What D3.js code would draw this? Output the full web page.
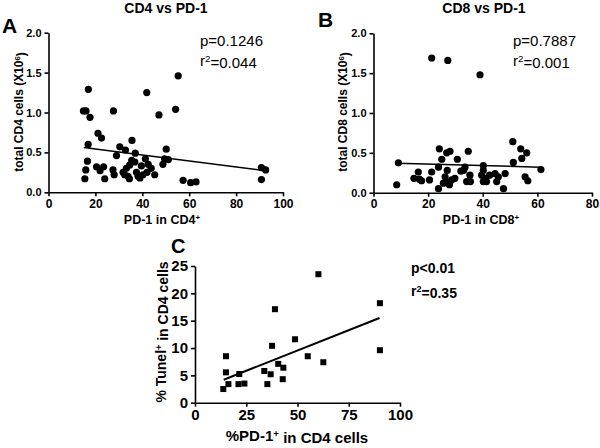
<!DOCTYPE html>
<html>
<head>
<meta charset="utf-8">
<script src="https://cdn.jsdelivr.net/npm/d3@7"></script>
<style>
  body { margin: 0; background: #fff; }
  svg { font-family: 'Liberation Sans', Arial, sans-serif; }
  .axis path, .axis line { stroke: #000; stroke-width: 1.6; }
  .axis text { fill: #000; font-weight: bold; }
</style>
</head>
<body>
<div id="chart"></div>
<script>
'use strict';
// Panel A: total CD4 cells vs PD-1 in CD4+
const cd4Points = [
    [17.0, 1.29], [14.9, 1.02], [16.0, 1.02], [17.7, 0.94], [27.7, 1.02], [41.9, 1.25], [55.3, 1.46],
    [54.2, 1.04], [47.1, 0.97], [16.9, 0.60], [21.1, 0.74], [22.6, 0.68], [35.6, 0.65], [30.4, 0.57],
    [32.8, 0.53], [37.0, 0.49], [29.0, 0.46], [50.2, 0.54], [41.3, 0.42], [49.5, 0.42], [48.8, 0.35],
    [16.6, 0.39], [15.9, 0.28], [15.5, 0.17], [20.5, 0.32], [22.0, 0.27], [23.5, 0.32], [24.0, 0.17],
    [27.5, 0.28], [28.0, 0.22], [31.8, 0.25], [33.2, 0.30], [34.6, 0.34], [33.9, 0.20], [32.5, 0.22],
    [37.5, 0.25], [38.2, 0.20], [40.3, 0.22], [42.0, 0.25], [43.8, 0.30], [45.3, 0.22], [39.6, 0.33],
    [36.8, 0.38], [35.5, 0.40], [42.5, 0.35], [39.0, 0.18], [34.5, 0.17], [51.1, 0.41], [57.4, 0.15],
    [60.6, 0.12], [62.9, 0.13], [90.8, 0.31], [92.6, 0.28], [90.8, 0.16]
]
const cd4Fit = [[15, 0.56], [93, 0.27]]
// Panel B: total CD8 cells vs PD-1 in CD8+
const cd8Points = [
    [21.3, 1.69], [27.2, 1.66], [39.0, 1.48], [9.1, 0.375], [8.5, 0.10], [14.8, 0.18], [16.8, 0.17],
    [16.4, 0.26], [17.6, 0.15], [20.5, 0.16], [21.3, 0.26], [24.1, 0.55], [25.0, 0.42], [23.8, 0.32],
    [23.8, 0.05], [26.8, 0.50], [28.0, 0.52], [27.0, 0.28], [26.2, 0.20], [26.8, 0.14], [27.8, 0.10],
    [25.6, 0.12], [28.6, 0.16], [29.8, 0.18], [30.7, 0.42], [34.7, 0.52], [33.5, 0.32], [33.0, 0.28],
    [35.3, 0.22], [34.1, 0.14], [35.5, 0.14], [40.2, 0.34], [40.2, 0.28], [39.6, 0.22], [40.8, 0.18],
    [40.2, 0.14], [41.4, 0.14], [44.5, 0.24], [45.7, 0.20], [45.1, 0.14], [48.2, 0.24], [47.6, 0.05],
    [51.0, 0.64], [53.9, 0.55], [56.1, 0.50], [54.3, 0.43], [51.2, 0.38], [55.5, 0.20], [56.5, 0.15],
    [61.3, 0.29], [32.0, 0.27], [42.5, 0.22]
]
const cd8Fit = [[8.5, 0.37], [61, 0.32]]
// Panel C: % Tunel+ vs %PD-1+ in CD4 cells
const tunelPoints = [
    [13.8, 2.5], [15.1, 8.5], [15.1, 5.55], [16.3, 3.4], [21.2, 3.4], [21.6, 5.25], [24.1, 3.5],
    [33.8, 5.8], [35.3, 3.4], [36.9, 5.2], [37.6, 10.4], [39.0, 17.1], [40.6, 7.1], [43.1, 6.4],
    [42.8, 4.3], [48.8, 11.6], [55.0, 8.5], [60.2, 23.5], [62.6, 7.4], [90.2, 18.2], [90.2, 9.6]
]
const tunelFit = [[14, 4.2], [90, 15.5]]
const yTicksAB = [0, 0.5, 1.0, 1.5, 2.0]
const xTicksA = [0, 20, 40, 60, 80, 100]
const xTicksB = [0, 20, 40, 60, 80]
const xTicksC = [0, 25, 50, 75, 100]
const yTicksC = [0, 5, 10, 15, 20, 25]

const svg = d3.select('#chart').append('svg')
    .attr('width', 600)
    .attr('height', 448)

function drawAxes(x, y, xTicks, yTicks, yFmt, xFont, yFont) {
    const [x0] = x.range()
    const [y0] = y.range()
    svg.append('g') // x axis
        .attr('class', 'axis')
        .attr('transform', `translate(0, ${y0})`)
        .call(d3.axisBottom(x).tickValues(xTicks).tickSize(4).tickSizeOuter(0).tickPadding(3))
        .selectAll('text').style('font-size', xFont + 'px')
    svg.append('g') // y axis
        .attr('class', 'axis')
        .attr('transform', `translate(${x0}, 0)`)
        .call(d3.axisLeft(y).tickValues(yTicks).tickFormat(yFmt).tickSize(4).tickSizeOuter(0).tickPadding(3))
        .selectAll('text').style('font-size', yFont + 'px')
}

function drawFit(x, y, fit, width) {
    svg.append('path').datum(fit)
        .attr('fill', 'none')
        .attr('stroke', '#000')
        .attr('stroke-width', width)
        .attr('d', d3.line().x(d => x(d[0])).y(d => y(d[1])))
}

function supText(sel, parts) { // parts: [text, isSup]
    parts.forEach(([t, sup], i) => {
        const prevSup = i > 0 && parts[i - 1][1]
        sel.append('tspan')
            .attr('dy', sup ? '-0.45em' : (prevSup ? '0.45em' : null))
            .style('font-size', sup ? '0.65em' : null)
            .text(t)
    })
}

// ---- Panel A ----
const xA = d3.scaleLinear().domain([0, 100]).range([48.5, 283])
const yA = d3.scaleLinear().domain([0, 2]).range([192.3, 32.7])
drawAxes(xA, yA, xTicksA, yTicksAB, d3.format('.1f'), 12, 11)
svg.append('g').selectAll('circle')
    .data(cd4Points).enter().append('circle')
    .attr('cx', d => xA(d[0]))
    .attr('cy', d => yA(d[1]))
    .attr('r', 3.6)
    .attr('fill', '#000')
drawFit(xA, yA, cd4Fit, 1.5)

// ---- Panel B ----
const xB = d3.scaleLinear().domain([0, 80]).range([373.5, 592])
const yB = d3.scaleLinear().domain([0, 2]).range([192.7, 33.3])
drawAxes(xB, yB, xTicksB, yTicksAB, d3.format('.1f'), 12, 11)
svg.append('g').selectAll('circle')
    .data(cd8Points).enter().append('circle')
    .attr('cx', d => xB(d[0]))
    .attr('cy', d => yB(d[1]))
    .attr('r', 3.6)
    .attr('fill', '#000')
drawFit(xB, yB, cd8Fit, 1.5)

// ---- Panel C ----
const xC = d3.scaleLinear().domain([0, 100]).range([195, 400])
const yC = d3.scaleLinear().domain([0, 25]).range([402.7, 266])
drawAxes(xC, yC, xTicksC, yTicksC, d3.format('d'), 15, 15)
svg.append('g').selectAll('rect')
    .data(tunelPoints).enter().append('rect')
    .attr('x', d => xC(d[0]) - 3)
    .attr('y', d => yC(d[1]) - 3)
    .attr('width', 6)
    .attr('height', 6)
    .attr('fill', '#000')
drawFit(xC, yC, tunelFit, 2)

// ---- Titles, panel letters, labels ----
const boldText = (x, y, size, txt, anchor = 'middle') => svg.append('text')
    .attr('x', x).attr('y', y)
    .style('font-size', size + 'px')
    .style('font-weight', 'bold')
    .style('text-anchor', anchor)
    .text(txt)
boldText(166, 13, 14, 'CD4 vs PD-1')
boldText(484, 13, 14, 'CD8 vs PD-1')
boldText(2, 33, 21, 'A', 'start')
boldText(318, 27, 21, 'B', 'start')
boldText(171, 253, 20, 'C', 'start')

// x axis labels
supText(boldText(162, 224, 12.5, ''), [['PD-1 in CD4', false], ['+', true]])
supText(boldText(481, 224, 12.5, ''), [['PD-1 in CD8', false], ['+', true]])
supText(boldText(297, 441, 15, ''), [['%PD-1', false], ['+', true], [' in CD4 cells', false]])

// y axis labels
supText(boldText(0, 0, 12, '').attr('transform', 'translate(23, 112) rotate(-90)'),
    [['total CD4 cells (X10', false], ['6', true], [')', false]])
supText(boldText(0, 0, 12, '').attr('transform', 'translate(347, 112) rotate(-90)'),
    [['total CD8 cells (X10', false], ['6', true], [')', false]])
supText(boldText(0, 0, 14, '').attr('transform', 'translate(166, 332) rotate(-90)'),
    [['% Tunel', false], ['+', true], [' in CD4 cells', false]])

// stats
const statText = (x, y, size, weight, parts) => supText(svg.append('text')
    .attr('x', x).attr('y', y)
    .style('font-size', size + 'px')
    .style('font-weight', weight), parts)
statText(200, 46, 15, 'normal', [['p=0.1246', false]])
statText(200, 66, 15, 'normal', [['r', false], ['2', true], ['=0.044', false]])
statText(513, 46, 15, 'normal', [['p=0.7887', false]])
statText(513, 66, 15, 'normal', [['r', false], ['2', true], ['=0.001', false]])
statText(411, 273, 14, 'bold', [['p<0.01', false]])
statText(411, 296, 14, 'bold', [['r', false], ['2', true], ['=0.35', false]])
</script>
</body>
</html>
